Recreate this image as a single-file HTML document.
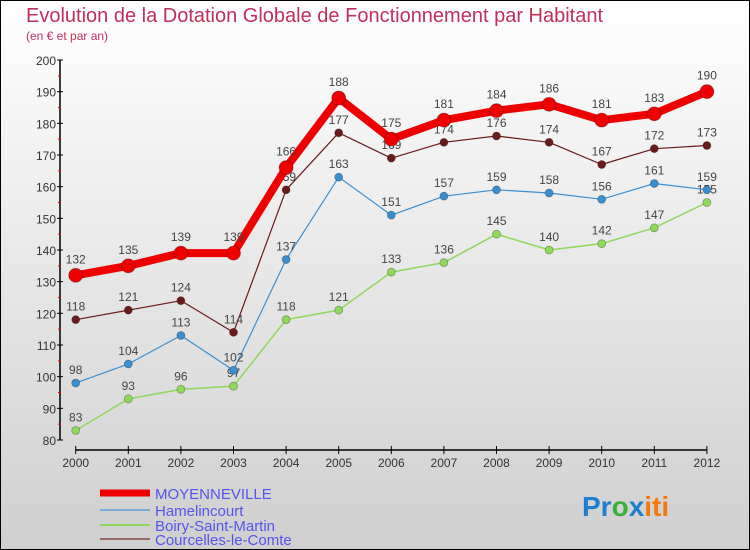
<!DOCTYPE html>
<html><head><meta charset="utf-8"><style>
body{margin:0;width:750px;height:550px;overflow:hidden;font-family:"Liberation Sans",sans-serif}
svg{display:block}
</style></head><body>
<svg id="c" width="750" height="550">
<defs><linearGradient id="bg" x1="0" y1="0" x2="0" y2="1"><stop offset="0" stop-color="#ffffff"/><stop offset="1" stop-color="#cfcfcf"/></linearGradient></defs>
<rect x="0.5" y="0.5" width="749" height="549" fill="url(#bg)" stroke="#000"/>
<text x="26" y="22" font-size="20" fill="#c0305a">Evolution de la Dotation Globale de Fonctionnement par Habitant</text>
<text x="26" y="40" font-size="12" fill="#c0305a">(en € et par an)</text>
<g id="axes"></g><g id="series"></g><g id="legend"></g>
<text x="582" y="516" font-size="28" font-weight="bold"><tspan fill="#1e7fd0">Pr</tspan><tspan fill="#3ab03a">o</tspan><tspan fill="#1e7fd0">x</tspan><tspan fill="#f07a10">iti</tspan></text>
</svg>
<script>
const years=[2000,2001,2002,2003,2004,2005,2006,2007,2008,2009,2010,2011,2012];
const yTicks=[80,90,100,110,120,130,140,150,160,170,180,190,200];
const moyenneville=[132,135,139,139,166,188,175,181,184,186,181,183,190];
const hamelincourt=[98,104,113,102,137,163,151,157,159,158,156,161,159];
const boiry=[83,93,96,97,118,121,133,136,145,140,142,147,155];
const courcelles=[118,121,124,114,159,177,169,174,176,174,167,172,173];
const NS="http://www.w3.org/2000/svg";
const X=i=>75.7+i*52.6;
const Y=v=>440-(v-80)*3.1667;
function mk(tag,attrs,parent,txt){const e=document.createElementNS(NS,tag);for(const k in attrs)e.setAttribute(k,attrs[k]);if(txt!==undefined)e.textContent=txt;parent.appendChild(e);return e;}
const ax=document.getElementById('axes');
let e=mk('line',{x1:60,y1:60,x2:60,y2:440,stroke:'#000','stroke-width':1.5},ax);


yTicks.forEach(v=>{
 let t=mk('line',{x1:57,x2:63,y1:Y(v),y2:Y(v),stroke:'#000'},ax);
 
 
 if(v<200){let m=mk('line',{x1:58,x2:61,y1:Y(v+5),y2:Y(v+5),stroke:'#e00'},ax);
 
 }
 let l=mk('text',{x:56,y:Y(v)+5,'text-anchor':'end','font-size':12,fill:'#333'},ax,v);
 
 
});
e=mk('line',{x1:X(0),y1:450,x2:X(12),y2:450,stroke:'#000','stroke-width':1.5},ax);


years.forEach((yr,i)=>{
 let t=mk('line',{x1:X(i),x2:X(i),y1:446,y2:454,stroke:'#000'},ax);
 
 
 let l=mk('text',{x:X(i),y:467,'text-anchor':'middle','font-size':12,fill:'#333'},ax,yr);
 
 
});
const sg=document.getElementById('series');
function series(name,data,color,w,r){
 const g=mk('g',{},sg);
 
 
 let p=mk('polyline',{points:data.map((v,i)=>X(i)+','+Y(v)).join(' '),fill:'none',stroke:color,'stroke-width':w,'stroke-linejoin':'round'},g);
 
 
 data.forEach((v,i)=>{
  let c=mk('circle',{cx:X(i),cy:Y(v),r:r,fill:color,stroke:'rgba(0,0,0,0.3)','stroke-width':0.8},g);
  
  
  let l=mk('text',{x:X(i),y:Y(v)-r-5,'text-anchor':'middle','font-size':12,fill:'#444'},g,v);
  
  
 });
}
series('boiry-saint-martin',boiry,'#8ed85a',1.5,4);
series('hamelincourt',hamelincourt,'#3a8fd0',1.2,4);
series('courcelles-le-comte',courcelles,'#6a1a1a',1.2,4);
series('moyenneville',moyenneville,'#ee0000',8,7);
const lg=document.getElementById('legend');
[['MOYENNEVILLE','#ee0000',7,493],['Hamelincourt','#7aaad8',2,510],['Boiry-Saint-Martin','#8ed85a',2,525],['Courcelles-le-Comte','#9a6a6a',2,539]].forEach(([n,c,w,y])=>{
 const g=mk('g',{},lg);
 
 
 mk('line',{x1:100,x2:150,y1:y,y2:y,stroke:c,'stroke-width':w},g);
 mk('text',{x:155,y:y+6,'font-size':15,fill:'#5555ee'},g,n);
});
</script>
</body></html>
